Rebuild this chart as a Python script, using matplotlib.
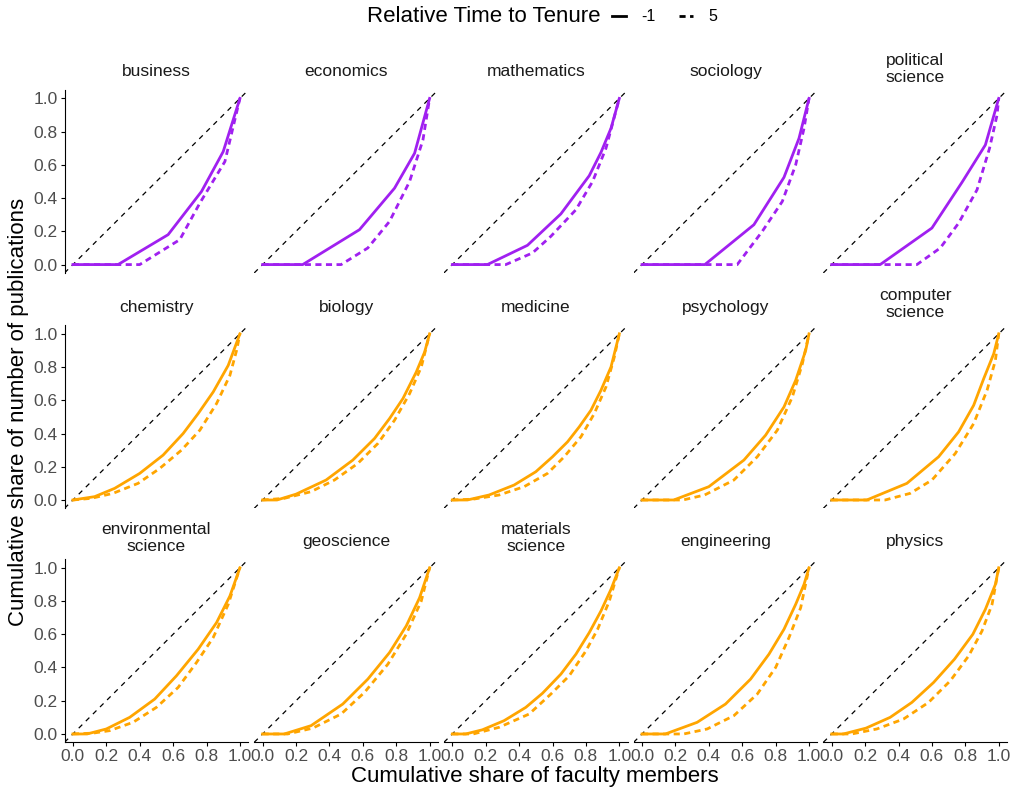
import matplotlib
matplotlib.use("Agg")
import matplotlib.pyplot as plt
from matplotlib.lines import Line2D

plt.rcParams['font.family'] = ['Liberation Sans', 'DejaVu Sans']

# campos (ordem dos paineis)
fields = ['business', 'economics', 'mathematics', 'sociology', 'political\nscience',
          'chemistry', 'biology', 'medicine', 'psychology', 'computer\nscience',
          'environmental\nscience', 'geoscience', 'materials\nscience', 'engineering', 'physics']
field_colors = ['#A020F0'] * 5 + ['#FFA500'] * 10

# curvas de Lorenz, tempo relativo -1 (linha continua)
x_before = {
    'business': [0, 0.27, 0.57, 0.77, 0.90, 1],
    'economics': [0, 0.24, 0.58, 0.79, 0.91, 1],
    'mathematics': [0, 0.21, 0.45, 0.65, 0.82, 0.89, 0.95, 1],
    'sociology': [0, 0.376, 0.67, 0.85, 0.94, 1],
    'political\nscience': [0, 0.29, 0.60, 0.78, 0.92, 1],
    'chemistry': [0, 0.13, 0.25, 0.40, 0.54, 0.66, 0.75, 0.84, 0.93, 1],
    'biology': [0, 0.086, 0.20, 0.38, 0.54, 0.67, 0.76, 0.84, 0.92, 0.97, 1],
    'medicine': [0, 0.09, 0.22, 0.37, 0.50, 0.60, 0.69, 0.76, 0.83, 0.89, 0.95, 1],
    'psychology': [0, 0.19, 0.40, 0.61, 0.74, 0.85, 0.92, 0.98, 1],
    'computer\nscience': [0, 0.21, 0.45, 0.64, 0.76, 0.85, 0.91, 0.97, 1],
    'environmental\nscience': [0, 0.085, 0.20, 0.34, 0.49, 0.62, 0.75, 0.86, 0.94, 1],
    'geoscience': [0, 0.13, 0.29, 0.48, 0.63, 0.76, 0.86, 0.94, 1],
    'materials\nscience': [0, 0.08, 0.18, 0.31, 0.44, 0.54, 0.65, 0.74, 0.82, 0.89, 0.95, 1],
    'engineering': [0, 0.14, 0.33, 0.50, 0.65, 0.76, 0.85, 0.92, 0.97, 1],
    'physics': [0, 0.07, 0.205, 0.35, 0.48, 0.61, 0.735, 0.845, 0.92, 0.98, 1],
}
y_before = {
    'business': [0, 0, 0.18, 0.44, 0.68, 1],
    'economics': [0, 0, 0.21, 0.46, 0.67, 1],
    'mathematics': [0, 0, 0.116, 0.305, 0.535, 0.675, 0.82, 1],
    'sociology': [0, 0, 0.24, 0.525, 0.76, 1],
    'political\nscience': [0, 0, 0.22, 0.495, 0.72, 1],
    'chemistry': [0, 0.02, 0.07, 0.16, 0.27, 0.40, 0.52, 0.65, 0.81, 1],
    'biology': [0, 0, 0.035, 0.12, 0.24, 0.37, 0.49, 0.61, 0.77, 0.89, 1],
    'medicine': [0, 0, 0.03, 0.09, 0.17, 0.26, 0.35, 0.44, 0.54, 0.66, 0.80, 1],
    'psychology': [0, 0, 0.08, 0.24, 0.39, 0.56, 0.72, 0.90, 1],
    'computer\nscience': [0, 0, 0.10, 0.26, 0.41, 0.57, 0.73, 0.88, 1],
    'environmental\nscience': [0, 0, 0.03, 0.10, 0.21, 0.35, 0.51, 0.67, 0.83, 1],
    'geoscience': [0, 0, 0.05, 0.18, 0.33, 0.49, 0.65, 0.82, 1],
    'materials\nscience': [0, 0, 0.025, 0.08, 0.16, 0.245, 0.36, 0.48, 0.61, 0.74, 0.87, 1],
    'engineering': [0, 0, 0.07, 0.18, 0.33, 0.48, 0.63, 0.78, 0.90, 1],
    'physics': [0, 0, 0.035, 0.10, 0.19, 0.31, 0.45, 0.60, 0.75, 0.90, 1],
}

# tempo relativo 5 (linha tracejada)
x_after = {
    'business': [0, 0.40, 0.64, 0.76, 0.91, 1],
    'economics': [0, 0.47, 0.63, 0.76, 0.88, 0.96, 1],
    'mathematics': [0, 0.32, 0.48, 0.59, 0.74, 0.84, 0.92, 0.96, 1],
    'sociology': [0, 0.57, 0.72, 0.84, 0.92, 0.97, 1],
    'political\nscience': [0, 0.51, 0.65, 0.76, 0.87, 0.945, 0.99, 1],
    'chemistry': [0, 0.11, 0.24, 0.39, 0.52, 0.65, 0.76, 0.86, 0.94, 0.98, 1],
    'biology': [0, 0.13, 0.29, 0.43, 0.57, 0.69, 0.79, 0.88, 0.95, 1],
    'medicine': [0, 0.125, 0.28, 0.43, 0.57, 0.67, 0.77, 0.85, 0.92, 0.97, 1],
    'psychology': [0, 0.245, 0.375, 0.55, 0.69, 0.81, 0.90, 0.96, 1],
    'computer\nscience': [0, 0.32, 0.47, 0.60, 0.74, 0.85, 0.93, 0.98, 1],
    'environmental\nscience': [0, 0.12, 0.22, 0.36, 0.50, 0.63, 0.74, 0.84, 0.93, 1],
    'geoscience': [0, 0.15, 0.30, 0.47, 0.61, 0.75, 0.86, 0.95, 1],
    'materials\nscience': [0, 0.125, 0.28, 0.46, 0.59, 0.70, 0.80, 0.87, 0.94, 1],
    'engineering': [0, 0.25, 0.39, 0.55, 0.69, 0.80, 0.88, 0.95, 1],
    'physics': [0, 0.12, 0.27, 0.43, 0.58, 0.71, 0.82, 0.90, 0.96, 1],
}
y_after = {
    'business': [0, 0, 0.15, 0.37, 0.62, 1],
    'economics': [0, 0, 0.10, 0.26, 0.50, 0.75, 1],
    'mathematics': [0, 0, 0.07, 0.17, 0.33, 0.50, 0.70, 0.85, 1],
    'sociology': [0, 0, 0.20, 0.38, 0.60, 0.82, 1],
    'political\nscience': [0, 0, 0.10, 0.25, 0.45, 0.70, 0.90, 1],
    'chemistry': [0, 0.01, 0.04, 0.10, 0.19, 0.30, 0.42, 0.58, 0.75, 0.90, 1],
    'biology': [0, 0.01, 0.05, 0.12, 0.22, 0.34, 0.48, 0.64, 0.80, 1],
    'medicine': [0, 0.005, 0.03, 0.08, 0.16, 0.26, 0.38, 0.52, 0.68, 0.86, 1],
    'psychology': [0, 0, 0.03, 0.12, 0.26, 0.42, 0.62, 0.82, 1],
    'computer\nscience': [0, 0, 0.04, 0.12, 0.28, 0.46, 0.66, 0.84, 1],
    'environmental\nscience': [0, 0.005, 0.02, 0.07, 0.16, 0.28, 0.43, 0.58, 0.78, 1],
    'geoscience': [0, 0, 0.035, 0.12, 0.25, 0.42, 0.60, 0.80, 1],
    'materials\nscience': [0, 0, 0.04, 0.12, 0.24, 0.35, 0.50, 0.63, 0.80, 1],
    'engineering': [0, 0, 0.03, 0.11, 0.24, 0.40, 0.58, 0.76, 1],
    'physics': [0, 0, 0.03, 0.09, 0.19, 0.32, 0.47, 0.62, 0.78, 1],
}

ticks = [0.0, 0.2, 0.4, 0.6, 0.8, 1.0]
tick_labels = ['0.0', '0.2', '0.4', '0.6', '0.8', '1.0']

fig = plt.figure(figsize=(10.15, 7.91), dpi=100)

# posicoes dos paineis (fracoes da figura)
lefts = [0.0636 + i * 0.1869 for i in range(5)]
bottoms = [0.655, 0.3574, 0.0616]
w, h = 0.181, 0.2311

for i, field in enumerate(fields):
    r, c = divmod(i, 5)
    ax = fig.add_axes([lefts[c], bottoms[r], w, h])
    ax.plot([-0.05, 1.05], [-0.05, 1.05], color='black', lw=0.9, ls=(0, (4, 4)))
    ax.plot(x_before[field], y_before[field], color=field_colors[i], lw=2)
    ax.plot(x_after[field], y_after[field], color=field_colors[i], lw=2, ls=(0, (2.2, 1.6)))
    ax.set_xlim(-0.05, 1.05)
    ax.set_ylim(-0.05, 1.05)
    ax.set_title(field, fontsize=12.5, color='#1a1a1a', pad=10 if '\n' not in field else 6,
                 linespacing=1.15)
    for s in ['top', 'right']:
        ax.spines[s].set_visible(False)
    ax.spines['left'].set_visible(c == 0)
    ax.spines['bottom'].set_visible(r == 2)
    ax.set_xticks(ticks)
    ax.set_yticks(ticks)
    ax.tick_params(length=3, width=0.8, labelsize=12.5, labelcolor='#4D4D4D', pad=2)
    if c == 0:
        ax.set_yticklabels(tick_labels)
    else:
        ax.tick_params(axis='y', left=False, labelleft=False)
    if r == 2:
        ax.set_xticklabels(tick_labels)
    else:
        ax.tick_params(axis='x', bottom=False, labelbottom=False)

fig.text(0.018, 0.479, 'Cumulative share of number of publications', rotation=90,
         ha='center', va='center', fontsize=16)
fig.text(0.527, 0.018, 'Cumulative share of faculty members', ha='center', va='center', fontsize=16)

# legenda no topo: titulo a esquerda, chaves na mesma linha
fig.text(0.592, 0.979, 'Relative Time to Tenure', ha='right', va='center', fontsize=16)
handles = [Line2D([], [], color='black', lw=2),
           Line2D([], [], color='black', lw=2, ls=(0, (2.2, 1.6)))]
fig.legend(handles, ['-1', '5'], loc='center left', bbox_to_anchor=(0.603, 0.979),
           ncol=2, frameon=False, fontsize=11.5, handlelength=0.9, handletextpad=0.95,
           columnspacing=1.45, borderaxespad=0, borderpad=0)

fig.savefig('out.png', dpi=100)
